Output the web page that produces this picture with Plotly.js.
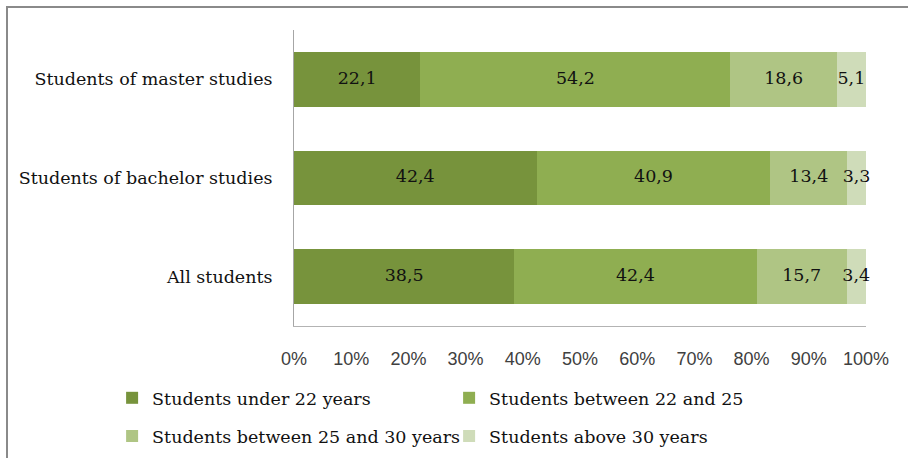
<!DOCTYPE html>
<html>
<head>
<meta charset="utf-8">
<script src="https://cdn.plot.ly/plotly-3.0.1.min.js"></script>
<style>
  html, body { margin: 0; padding: 0; background: #fff; }
  #wrap { position: relative; width: 908px; height: 458px; overflow: hidden; }
  #chart { width: 908px; height: 458px; }
  #frame { position: absolute; left: 6px; top: 6px; width: 920px; height: 470px;
           border-top: 2px solid #8a8a8a; border-left: 2px solid #8a8a8a; pointer-events: none; }
</style>
</head>
<body>
<div id="wrap">
  <div id="chart"></div>
  <div id="frame"></div>
</div>
<script>
// Student groups (bottom to top)
const categories = ["All students", "Students of bachelor studies", "Students of master studies"];

// Age distribution, % of each group
const under22    = [38.5, 42.4, 22.1];
const from22to25 = [42.4, 40.9, 54.2];
const from25to30 = [15.7, 13.4, 18.6];
const above30    = [3.4, 3.3, 5.1];

const seriesNames = [
  "Students under 22 years",
  "Students between 22 and 25",
  "Students between 25 and 30 years",
  "Students above 30 years"
];
const seriesValues = [under22, from22to25, from25to30, above30];
const seriesColors = ["#77933c", "#8fae51", "#afc584", "#cfdcb9"];
const legendIds = ["legend", "legend", "legend2", "legend2"];

const xTickVals = [0, 10, 20, 30, 40, 50, 60, 70, 80, 90, 100];
const xTickText = ["0%", "10%", "20%", "30%", "40%", "50%", "60%", "70%", "80%", "90%", "100%"];

const serif = "DejaVu Serif, Liberation Serif, serif";
const sans = "Liberation Sans, Arial, sans-serif";
const textColor = "#111111";

const traces = seriesValues.map((vals, i) => ({
  type: "bar",
  orientation: "h",
  name: seriesNames[i],
  y: categories,
  x: vals,
  marker: { color: seriesColors[i], line: { width: 0 } },
  legend: legendIds[i],
  hoverinfo: "skip"
}));

// Value labels centred on each stacked segment
const labelX = [], labelY = [], labelText = [];
categories.forEach((cat, c) => {
  let start = 0;
  seriesValues.forEach(vals => {
    labelX.push(start + vals[c] / 2);
    labelY.push(cat);
    labelText.push(vals[c].toFixed(1).replace(".", ","));
    start += vals[c];
  });
});
traces.push({
  type: "scatter",
  mode: "text",
  x: labelX,
  y: labelY,
  text: labelText,
  textposition: "middle center",
  textfont: { family: serif, size: 17.5, color: textColor },
  showlegend: false,
  cliponaxis: false,
  hoverinfo: "skip"
});

const layout = {
  width: 908,
  height: 458,
  margin: { l: 294, r: 42, t: 30, b: 132, autoexpand: false },
  paper_bgcolor: "#ffffff",
  plot_bgcolor: "#ffffff",
  barmode: "stack",
  bargap: 0.443,
  showlegend: true,
  xaxis: {
    range: [0, 100],
    tickmode: "array",
    tickvals: xTickVals,
    ticktext: xTickText,
    showgrid: false,
    zeroline: false,
    showline: true,
    linecolor: "#b3b3b3",
    linewidth: 1,
    ticks: "",
    ticklabelstandoff: 16,
    tickfont: { family: sans, size: 18, color: "#404040" },
    fixedrange: true
  },
  yaxis: {
    type: "category",
    showgrid: false,
    zeroline: false,
    showline: true,
    linecolor: "#a6a6a6",
    linewidth: 1,
    ticks: "",
    ticklabelstandoff: 17,
    tickfont: { family: serif, size: 17.5, color: textColor },
    fixedrange: true
  },
  legend: {
    orientation: "h",
    x: -0.318, xanchor: "left",
    y: -0.243, yanchor: "middle",
    entrywidth: 292, entrywidthmode: "pixels",
    font: { family: serif, size: 17.5, color: textColor },
    bgcolor: "rgba(0,0,0,0)",
    traceorder: "normal"
  },
  legend2: {
    orientation: "h",
    x: -0.318, xanchor: "left",
    y: -0.372, yanchor: "middle",
    entrywidth: 292, entrywidthmode: "pixels",
    font: { family: serif, size: 17.5, color: textColor },
    bgcolor: "rgba(0,0,0,0)",
    traceorder: "normal"
  }
};

Plotly.newPlot("chart", traces, layout, { staticPlot: true, displayModeBar: false });
</script>
</body>
</html>
